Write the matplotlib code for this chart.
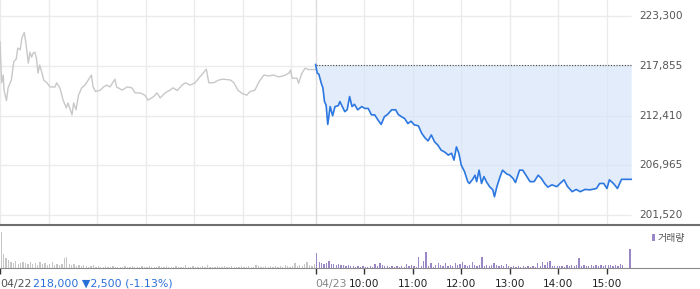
import matplotlib.pyplot as plt
from matplotlib.patches import Rectangle
import numpy as np

plt.rcParams['font.family'] = ['DejaVu Sans', 'Noto Sans CJK KR']

# minutes after 09:00, day 1 (04/22) and day 2 (04/23)
day1_min = [0, 2, 4, 5, 8, 10, 14, 17, 20, 22, 25, 27, 30, 32, 35, 37, 39, 41, 43, 45,
            47, 49, 52, 54, 58, 62, 68, 70, 74, 78, 82, 84, 89, 91, 94, 97, 101, 105, 109, 113,
            115, 118, 124, 128, 132, 136, 142, 144, 151, 157, 163, 167, 173, 179, 183, 190, 194, 198, 204, 210,
            214, 219, 225, 229, 235, 241, 247, 251, 255, 258, 264, 270, 276, 285, 289, 294, 299, 305, 309, 315,
            320, 326, 332, 338, 344, 350, 357, 359, 361, 367, 369, 373, 377, 381, 390]
day1_price = [220500, 216000, 216850, 215200, 214050, 215450, 216300, 218300, 218600, 219800,
              219600, 220900, 221500, 220350, 218150, 219350, 218800, 219250, 219350, 218700,
              217050, 217950, 217050, 216300, 216000, 215550, 215550, 216000, 215450, 214100,
              213250, 213800, 212500, 213800, 213050, 214650, 215450, 215750, 216300, 216850,
              215550, 215050, 215200, 215550, 215750, 215550, 216400, 215550, 215200, 215550,
              215450, 214900, 214900, 214650, 214100, 214500, 214900, 214350, 214900, 215200,
              215450, 215150, 215750, 216000, 215750, 216000, 216650, 217050, 217500, 216000,
              216000, 216300, 216400, 216300, 216000, 215200, 214850, 214650, 215050, 215200,
              216100, 216850, 216750, 216850, 216650, 216750, 217050, 217400, 216500, 216500,
              215950, 217050, 217600, 217450, 217450]

day2_min = [0, 2, 4, 7, 9, 11, 13, 15, 18, 21, 24, 28, 30, 33, 36, 39, 42, 45, 48, 52,
            57, 61, 65, 69, 73, 77, 81, 85, 89, 94, 99, 102, 106, 110, 114, 118, 122, 127, 131, 135,
            139, 143, 147, 151, 155, 160, 164, 168, 171, 174, 177, 180, 184, 188, 190, 194, 197, 199, 202, 205,
            208, 211, 215, 219, 221, 224, 228, 231, 236, 240, 244, 247, 252, 256, 261, 265, 270, 275, 279, 283,
            287, 292, 298, 302, 307, 311, 317, 322, 327, 333, 339, 347, 351, 356, 360, 363, 368, 373, 378, 384,
            390]
day2_price = [218000, 217050, 216950, 215950, 215450, 213950, 213550, 211450, 213400, 212400,
              213400, 213500, 213950, 213400, 212850, 213050, 214500, 213400, 213650, 213050,
              213400, 213200, 213200, 212500, 212500, 211950, 211450, 212300, 212550, 213050,
              213050, 212550, 212300, 212100, 211550, 211800, 211400, 211300, 210500, 210000,
              209650, 210300, 209550, 209200, 208650, 208400, 208100, 208300, 207550, 209000,
              208300, 207000, 206300, 205200, 205000, 205450, 205900, 205200, 206450, 205000,
              205750, 205200, 204650, 204300, 203550, 204650, 205750, 206450, 206050, 205900,
              205550, 205100, 206450, 206450, 205750, 205200, 205200, 205900, 205550, 205000,
              204600, 204850, 204650, 205000, 205400, 204700, 204100, 204350, 204100, 204350,
              204300, 204450, 205000, 205000, 204450, 205400, 205000, 204450, 205450, 205450,
              205450]

prev_close = 218000

# volume per 3-minute interval
vol1 = [36, 14, 10, 8, 6, 5, 7, 4, 5, 6, 5, 4, 6, 4, 5, 3, 6, 4, 5, 3,
        4, 6, 3, 4, 3, 4, 10, 11, 4, 3, 4, 2, 3, 2, 3, 2, 1, 2, 3, 1,
        2, 1, 1, 2, 1, 1, 2, 1, 1, 1, 1, 2, 1, 1, 2, 1, 1, 1, 2, 1,
        1, 2, 1, 1, 1, 2, 1, 1, 2, 1, 1, 1, 2, 1, 1, 1, 3, 1, 1, 2,
        1, 1, 1, 2, 1, 3, 1, 1, 1, 2, 1, 1, 2, 1, 1, 2, 1, 1, 1, 2,
        1, 1, 2, 1, 1, 3, 2, 1, 1, 2, 1, 2, 1, 2, 1, 2, 1, 3, 2, 1,
        2, 5, 2, 3, 2, 4, 6, 3, 2, 4]
vol2 = [15, 6, 5, 4, 5, 7, 4, 4, 3, 4, 3, 3, 2, 3, 2, 2, 1, 2, 1, 2,
        1, 1, 2, 1, 4, 2, 5, 3, 2, 2, 1, 2, 1, 2, 1, 2, 1, 4, 2, 3,
        2, 1, 11, 2, 7, 16, 2, 5, 1, 3, 5, 3, 2, 5, 2, 3, 2, 5, 3, 4,
        6, 3, 2, 3, 6, 3, 2, 3, 11, 2, 3, 2, 3, 5, 3, 2, 3, 2, 4, 2,
        1, 2, 1, 2, 1, 2, 1, 2, 1, 2, 1, 5, 2, 6, 3, 6, 7, 2, 2, 2,
        2, 2, 1, 3, 2, 3, 2, 3, 10, 2, 3, 2, 2, 3, 2, 3, 2, 3, 2, 3,
        3, 3, 2, 3, 2, 4, 3, 0, 0, 19]

price_ticks = [223300, 217855, 212410, 206965, 201520]
time_ticks = [450, 510, 570, 630, 690, 750]
time_labels = ['10:00', '11:00', '12:00', '13:00', '14:00', '15:00']
grid_x = [0, 60, 120, 180, 240, 300, 360, 390, 450, 510, 570, 630, 690, 750]

fig = plt.figure(figsize=(7, 2.89), dpi=100)

ax = fig.add_axes([0, 64 / 289, 1, 225 / 289])
ax.set_xlim(0, 865)
ax.set_ylim(200460, 225050)
ax.axis('off')

for p in price_ticks:
    ax.hlines(p, 0, 780, color='#ebebeb', lw=1, zorder=1)
    ax.text(790, p, format(p, ','), va='center', ha='left', fontsize=7.6, color='#555555')
for g in grid_x:
    ax.axvline(g, color='#dcdcdc' if g == 390 else '#ebebeb', lw=1, zorder=1)

ax.plot(day1_min, day1_price, color='#c8c8c8', lw=1, zorder=3)
d2x = 390 + np.array(day2_min)
ax.fill_between(d2x, day2_price, prev_close, color='#d8e5f8', alpha=0.7, lw=0, zorder=2)
ax.plot(d2x, day2_price, color='#2c78e0', lw=1.2, zorder=4)
ax.hlines(prev_close, 390, 780, colors='#444444', linestyles=(0, (1, 1.5)), lw=0.8, zorder=5)

vax = fig.add_axes([0, 21 / 289, 1, 43 / 289])
vax.set_xlim(0, 865)
vax.set_ylim(0, 43)
for s in ['left', 'right']:
    vax.spines[s].set_visible(False)
vax.spines['top'].set_color('#6f6f6f')
vax.spines['top'].set_linewidth(1.5)
vax.spines['bottom'].set_color('#8a8a8a')
vax.set_yticks([])

vx = np.arange(len(vol1)) * 3 + 1.5
vax.bar(vx, vol1, width=1.6, color='#c6c6c6', lw=0)
vax.bar(390 + vx, vol2, width=1.6, color='#9b86c8', lw=0)

vax.set_xticks([0, 390] + time_ticks)
vax.set_xticklabels([])
vax.tick_params(axis='x', length=4, width=1, color='#333333', direction='out')

tr = vax.get_xaxis_transform()
vax.text(0, -0.37, '04/22', transform=tr, ha='left', va='center', fontsize=7.9, color='#555555')
vax.text(40.5, -0.37, '218,000 \u25bc2,500 (-1.13%)', transform=tr, ha='left', va='center',
         fontsize=7.9, color='#2a6fd6')
vax.text(390, -0.37, '04/23', transform=tr, ha='left', va='center', fontsize=7.9, color='#888888')
for t, lab in zip(time_ticks, time_labels):
    vax.text(t, -0.37, lab, transform=tr, ha='center', va='center', fontsize=7.6, color='#222222')

vax.add_patch(Rectangle((806, 27), 3.5, 7, color='#9b86c8', lw=0))
vax.text(812, 30.5, '거래량', ha='left', va='center', fontsize=7.2, color='#555555')

fig.savefig('out.png')
